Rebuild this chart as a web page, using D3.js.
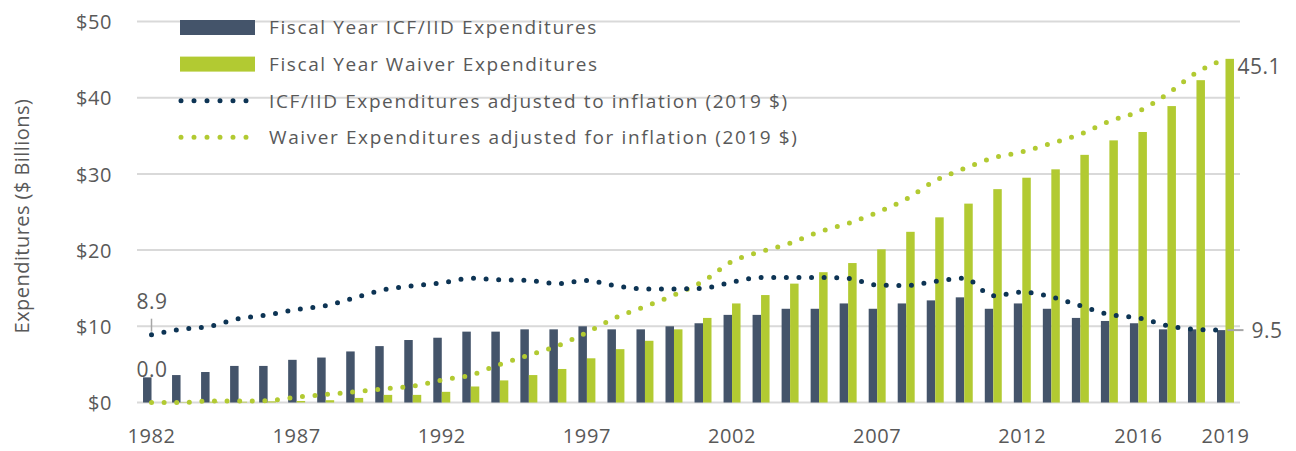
<!DOCTYPE html>
<html>
<head>
<meta charset="utf-8">
<script src="https://cdn.jsdelivr.net/npm/d3@7"></script>
<style>
  body { margin: 0; background: #fff; }
  text { font-family: "Open Sans", sans-serif; fill: #595959; }
</style>
</head>
<body>
<svg id="chart"></svg>
<script>
// years on the x axis
let years = d3.range(1982, 2020);
let tickYears = [1982, 1987, 1992, 1997, 2002, 2007, 2012, 2016, 2019];
let yTicks = [0, 10, 20, 30, 40, 50];

// fiscal year expenditures ($ billions)
let icfBars = [3.3, 3.6, 4.0, 4.8, 4.8, 5.6, 5.9, 6.7, 7.4, 8.2, 8.5, 9.3, 9.3, 9.6, 9.6,
  10.0, 9.6, 9.6, 10.0, 10.4, 11.5, 11.5, 12.3, 12.3, 13.0, 12.3, 13.0, 13.4, 13.8,
  12.3, 13.0, 12.3, 11.1, 10.7, 10.4, 9.6, 9.6, 9.5];
let waiverBars = [0.0, 0.05, 0.1, 0.1, 0.15, 0.2, 0.3, 0.6, 1.0, 1.0, 1.4, 2.1, 2.9, 3.6, 4.4,
  5.8, 7.0, 8.1, 9.6, 11.1, 13.0, 14.1, 15.6, 17.1, 18.3, 20.1, 22.4, 24.3, 26.1,
  28.0, 29.5, 30.6, 32.5, 34.4, 35.5, 38.9, 42.3, 45.1];

// adjusted for inflation (2019 $)
let icfAdj = [8.9, 9.6, 10.0, 11.0, 11.5, 12.2, 12.7, 13.75, 14.8, 15.3, 15.7, 16.3, 16.1,
  16.0, 15.6, 16.0, 15.3, 14.9, 14.9, 15.0, 15.8, 16.4, 16.4, 16.4, 16.3, 15.4, 15.35,
  15.9, 16.3, 14.0, 14.5, 13.85, 12.7, 11.55, 11.1, 10.1, 9.6, 9.5];
let waiverAdj = [0.0, 0.0, 0.2, 0.2, 0.25, 0.7, 1.05, 1.4, 1.8, 2.15, 2.95, 3.6, 5.0, 6.2,
  7.45, 9.2, 11.15, 12.6, 14.1, 15.9, 18.5, 19.8, 20.9, 22.4, 23.5, 24.95, 26.7, 29.1,
  30.7, 32.1, 32.9, 34.0, 35.2, 36.9, 38.2, 40.5, 43.3, 45.1];

let legendItems = [
  { label: "Fiscal Year ICF/IID Expenditures", type: "bar", color: "#44546a" },
  { label: "Fiscal Year Waiver Expenditures", type: "bar", color: "#b2ca32" },
  { label: "ICF/IID Expenditures adjusted to inflation (2019 $)", type: "dots", color: "#0d3454" },
  { label: "Waiver Expenditures adjusted for inflation (2019 $)", type: "dots", color: "#b2ca32" },
];

let width = 1296;
let height = 451;
let margin = { left: 137, right: 56, top: 21.5, bottom: 48.5 };

let svg = d3.select("#chart").attr("width", width).attr("height", height);

let x = d3.scaleBand()
  .domain(years)
  .range([margin.left, width - margin.right]);

let sub = d3.scaleBand()
  .domain(["icf", "waiver"])
  .range([0, x.bandwidth()])
  .paddingInner(0)
  .paddingOuter(0.71);

let y = d3.scaleLinear()
  .domain([0, 50])
  .range([height - margin.bottom, margin.top]);

// gridlines
svg.append("g")
  .selectAll("line")
  .data(yTicks)
  .enter()
  .append("line")
  .attr("x1", margin.left)
  .attr("x2", width - margin.right)
  .attr("y1", (d) => y(d))
  .attr("y2", (d) => y(d))
  .attr("stroke", "#d9d9d9")
  .attr("stroke-width", 2);

// y axis labels
let yAxis = svg.append("g")
  .attr("transform", `translate(${margin.left - 25},0)`)
  .call(d3.axisLeft(y).tickValues(yTicks).tickSize(0).tickFormat((d) => "$" + d));
yAxis.select(".domain").remove();
yAxis.selectAll("text")
  .attr("x", 0)
  .attr("dy", "0.36em")
  .style("font-size", "20px")
  .style("font-family", "Open Sans")
  .style("letter-spacing", "0.6px")
  .attr("fill", "#595959");

// x axis labels
let xAxis = svg.append("g")
  .attr("transform", `translate(0,${height - margin.bottom})`)
  .call(d3.axisBottom(x).tickValues(tickYears).tickSize(0));
xAxis.select(".domain").remove();
xAxis.selectAll("text")
  .attr("y", 26)
  .attr("dy", "0.71em")
  .style("font-size", "20px")
  .style("font-family", "Open Sans")
  .style("letter-spacing", "0.6px")
  .attr("fill", "#595959");

// axis title
svg.append("text")
  .attr("transform", `translate(29,${(margin.top + height - margin.bottom) / 2 + 4}) rotate(-90)`)
  .attr("text-anchor", "middle")
  .style("font-size", "20px")
  .style("letter-spacing", "0.45px")
  .text("Expenditures ($ Billions)");

// bars
let barData = years.map((yr, i) => ({ year: yr, icf: icfBars[i], waiver: waiverBars[i] }));

let groups = svg.append("g")
  .selectAll("g")
  .data(barData)
  .enter()
  .append("g")
  .attr("transform", (d) => `translate(${x(d.year)},0)`);

groups.append("rect")
  .attr("x", sub("icf"))
  .attr("width", sub.bandwidth())
  .attr("y", (d) => y(d.icf))
  .attr("height", (d) => y(0) - y(d.icf))
  .attr("fill", "#44546a");

groups.append("rect")
  .attr("x", sub("waiver"))
  .attr("width", sub.bandwidth())
  .attr("y", (d) => y(d.waiver))
  .attr("height", (d) => y(0) - y(d.waiver))
  .attr("fill", "#b2ca32");

// dotted lines
let line = d3.line()
  .x((d, i) => x(years[i]) + x.bandwidth() / 2)
  .y((d) => y(d))
  .curve(d3.curveMonotoneX);

svg.append("path")
  .datum(waiverAdj)
  .attr("d", line)
  .attr("fill", "none")
  .attr("stroke", "#b2ca32")
  .attr("stroke-width", 5)
  .attr("stroke-linecap", "round")
  .attr("stroke-dasharray", "0 12.6");

svg.append("path")
  .datum(icfAdj)
  .attr("d", line)
  .attr("fill", "none")
  .attr("stroke", "#0d3454")
  .attr("stroke-width", 5)
  .attr("stroke-linecap", "round")
  .attr("stroke-dasharray", "0 12.6");

// data labels
let last = years.length - 1;
let cx = (i) => x(years[i]) + x.bandwidth() / 2;

svg.append("line")
  .attr("x1", cx(0)).attr("x2", cx(0))
  .attr("y1", y(icfAdj[0]) - 16).attr("y2", y(icfAdj[0]) - 3)
  .attr("stroke", "#a6a6a6").attr("stroke-width", 1.5);

svg.append("line")
  .attr("x1", cx(last) + 2).attr("x2", cx(last) + 18)
  .attr("y1", y(icfAdj[last])).attr("y2", y(icfAdj[last]))
  .attr("stroke", "#a6a6a6").attr("stroke-width", 2);

let labels = [
  { text: icfAdj[0].toFixed(1), x: cx(0) - 15, y: y(icfAdj[0]) - 26 },
  { text: waiverAdj[0].toFixed(1), x: cx(0) - 15, y: y(0) - 26 },
  { text: icfAdj[last].toFixed(1), x: cx(last) + 26, y: y(icfAdj[last]) + 8 },
  { text: waiverAdj[last].toFixed(1), x: cx(last) + 12, y: y(waiverAdj[last]) + 15 },
];

svg.append("g")
  .selectAll("text")
  .data(labels)
  .enter()
  .append("text")
  .attr("x", (d) => d.x)
  .attr("y", (d) => d.y)
  .style("font-size", "21px")
  .style("letter-spacing", "0.5px")
  .attr("fill", "#404040")
  .text((d) => d.text);

// legend
let legend = svg.append("g")
  .selectAll("g")
  .data(legendItems)
  .enter()
  .append("g")
  .attr("transform", (d, i) => `translate(180,${27.5 + i * 36.6})`);

legend.filter((d) => d.type == "bar")
  .append("rect")
  .attr("x", 0)
  .attr("y", -7.5)
  .attr("width", 75)
  .attr("height", 15)
  .attr("fill", (d) => d.color);

legend.filter((d) => d.type == "dots")
  .append("line")
  .attr("x1", 1)
  .attr("x2", 68)
  .attr("stroke", (d) => d.color)
  .attr("stroke-width", 5)
  .attr("stroke-linecap", "round")
  .attr("stroke-dasharray", "0 13");

legend.append("text")
  .attr("x", 89)
  .attr("dy", "0.36em")
  .style("font-size", "19px")
  .style("letter-spacing", "1.6px")
  .text((d) => d.label);
</script>
</body>
</html>
